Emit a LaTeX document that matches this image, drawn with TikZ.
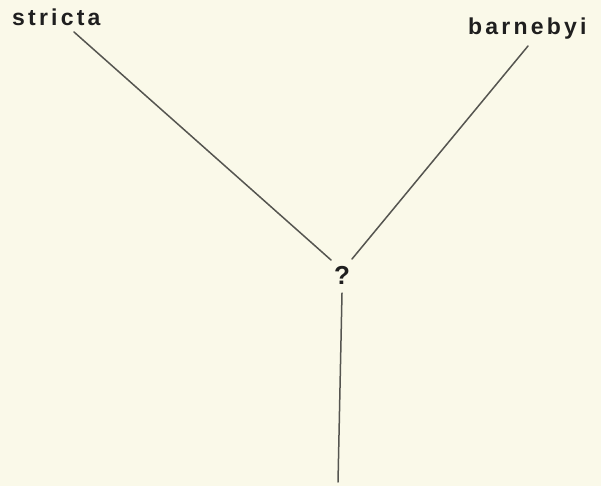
\documentclass[tikz,border=0pt]{standalone}
\usepackage{fontspec}
\newfontfamily\labelfont[LetterSpace=14]{Liberation Sans}
\usetikzlibrary{calc,positioning}
\definecolor{paper}{RGB}{250,249,233}
\definecolor{branchgray}{RGB}{85,85,80}

\begin{document}
\begin{tikzpicture}[x=1pt,y=-1pt,
    taxon/.style={font=\labelfont\bfseries\fontsize{23}{27}\selectfont,text=black!88,inner sep=0pt},
    branch/.style={draw=branchgray,line width=1.5pt,line cap=round}]
  \fill[paper] (0,0) rectangle (601,486);
  \useasboundingbox (0,0) rectangle (601,486);
  \node[taxon,anchor=base west] (stricta) at (12,26) {stricta};
  \node[taxon,anchor=base west] (barnebyi) at (468,35) {barnebyi};
  \node[taxon,font=\labelfont\bfseries\fontsize{26}{30}\selectfont] (q) at (342,275) {?};
  \coordinate (root) at (338,482);
  \draw[branch] ($(stricta.base west)+(62,6)$) -- ($(q)+(-11,-15)$);
  \draw[branch] ($(barnebyi.base west)+(60,11)$) -- ($(q)+(10,-16)$);
  \draw[branch] ($(q)+(0,18)$) -- (root);
\end{tikzpicture}
\end{document}
